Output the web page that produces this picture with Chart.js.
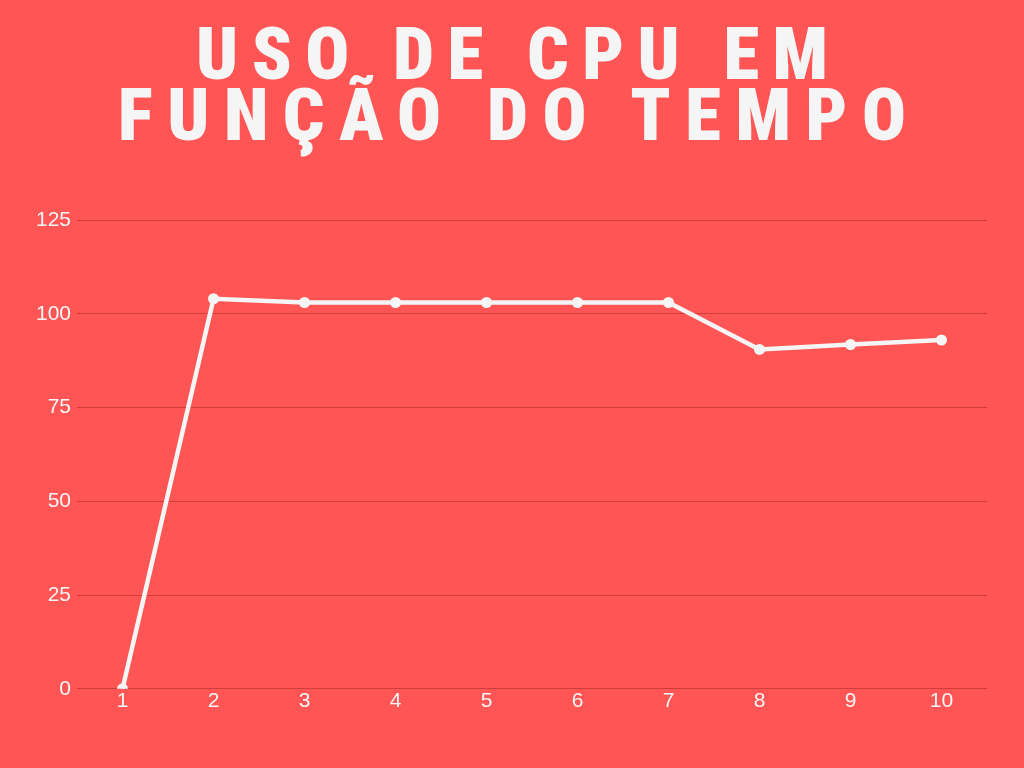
<!DOCTYPE html>
<html>
<head>
<meta charset="utf-8">
<script src="https://cdn.jsdelivr.net/npm/chart.js@4"></script>
<style>
  html, body { margin: 0; padding: 0; background: #FF5555; }
  body { width: 1024px; height: 768px; position: relative; overflow: hidden; }
  #title {
    position: absolute; left: 0; top: 24px; width: 1024px; margin: 0;
    text-align: center; color: #F5F5F5;
    font-family: "Liberation Sans Narrow", "Roboto Condensed", "Liberation Sans", sans-serif;
    font-weight: 900; font-size: 73px; line-height: 61px;
  }
  #title span { display: inline-block; white-space: nowrap; }
  #wrap { position: absolute; left: 0; top: 0; width: 1024px; height: 768px; }
</style>
</head>
<body>
<h1 id="title"><span id="t1">USO DE CPU EM</span><br><span id="t2">FUNÇÃO DO TEMPO</span></h1>
<div id="wrap"><canvas id="c"></canvas></div>
<script>
const titleLines = ["USO DE CPU EM", "FUNÇÃO DO TEMPO"];
const categories = ["1", "2", "3", "4", "5", "6", "7", "8", "9", "10"];
const cpuValues = [0, 104, 103, 103, 103, 103, 103, 90.5, 91.8, 93];
const yTicks = [0, 25, 50, 75, 100, 125];

// fit title letter-spacing to reference line widths
const targets = [632, 788];
["t1", "t2"].forEach((id, i) => {
  const el = document.getElementById(id);
  el.textContent = titleLines[i];
  el.style.letterSpacing = "0px";
  const w = el.getBoundingClientRect().width;
  const n = titleLines[i].length - 1;
  const ls = (targets[i] - w) / n;
  el.style.letterSpacing = ls + "px";
  el.style.marginRight = (-ls) + "px";
});

const white = "#F5F5F5";
const tickFont = { family: "Liberation Sans, Arial, sans-serif", size: 21 };
new Chart(document.getElementById("c"), {
  type: "line",
  data: {
    labels: categories,
    datasets: [{
      data: cpuValues,
      borderColor: white,
      backgroundColor: white,
      borderWidth: 4.5,
      pointRadius: 5.5,
      pointBackgroundColor: white,
      pointBorderWidth: 0,
      tension: 0,
      fill: false
    }]
  },
  options: {
    responsive: true,
    maintainAspectRatio: false,
    animation: false,
    layout: { padding: { top: 220, right: 37, left: 30, bottom: 54 } },
    plugins: { legend: { display: false }, tooltip: { enabled: false } },
    scales: {
      x: {
        offset: true,
        grid: { display: false, drawTicks: false, tickLength: 0 },
        border: { display: false },
        ticks: { color: white, font: tickFont, padding: 0 }
      },
      y: {
        min: 0, max: 125,
        afterBuildTicks: (axis) => { axis.ticks = yTicks.map(v => ({ value: v })); },
        grid: { color: "rgba(150,30,30,0.45)", lineWidth: 1, drawTicks: false },
        border: { display: false },
        ticks: { color: white, font: tickFont, padding: 6 }
      }
    }
  }
});
</script>
</body>
</html>
